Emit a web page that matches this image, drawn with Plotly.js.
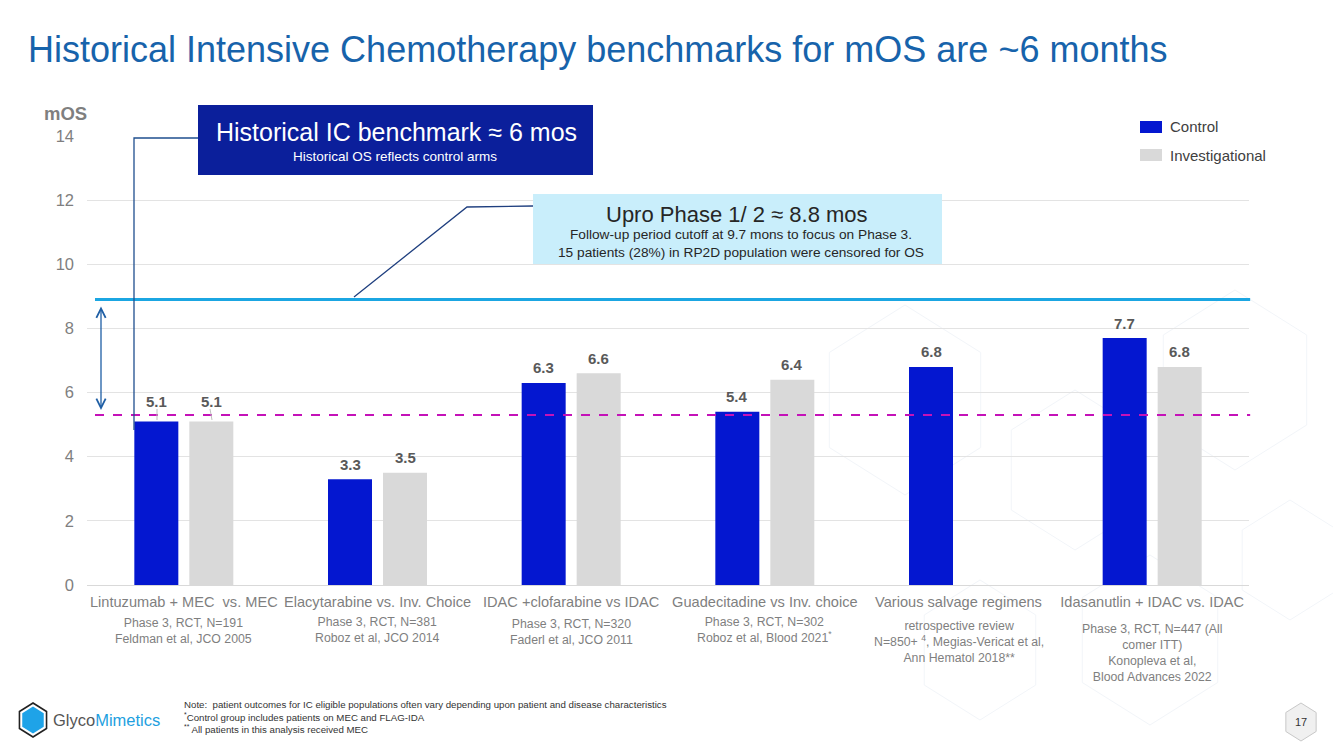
<!DOCTYPE html>
<html>
<head>
<meta charset="utf-8">
<script src="https://cdn.plot.ly/plotly-3.0.1.min.js"></script>
<style>html,body{margin:0;padding:0;background:#fff;}#chart{width:1333px;height:749px;}</style>
</head>
<body>
<div id="chart"></div>
<script>
// ---------- data ----------
const categories = [
  "Lintuzumab + MEC\u00a0 vs. MEC",
  "Elacytarabine vs. Inv. Choice",
  "IDAC +clofarabine vs IDAC",
  "Guadecitadine vs Inv. choice",
  "Various salvage regimens",
  "Idasanutlin + IDAC vs. IDAC"
];
const subLabels = [
  "Phase 3, RCT, N=191<br>Feldman et al, JCO 2005",
  "Phase 3, RCT, N=381<br>Roboz et al, JCO 2014",
  "Phase 3, RCT, N=320<br>Faderl et al, JCO 2011",
  "Phase 3, RCT, N=302<br>Roboz et al, Blood 2021<sup>*</sup>",
  "retrospective review<br>N=850+ <sup>4</sup>, Megias-Vericat et al,<br>Ann Hematol 2018**",
  "Phase 3, RCT, N=447 (All<br>comer ITT)<br>Konopleva et al,<br>Blood Advances 2022"
];
const controlValues = [5.1, 3.3, 6.3, 5.4, 6.8, 7.7];
const investigationalValues = [5.1, 3.5, 6.6, 6.4, null, 6.8];
const uproBenchmark = 8.9;
const historicalBenchmark = 5.3;
const yTickValues = [0, 2, 4, 6, 8, 10, 12, 14];
const seriesNames = ["Control", "Investigational"];

// ---------- geometry helpers (layout only) ----------
const L = 87, R = 1249, T = 136, B = 585;
const px = x => (x - L) / (R - L);
const py = y => (B - y) / (B - T);
const subLabelShift = [-29, -28, -30, -28, -32, -35];

const CONTROL_COLOR = "#0417d0";
const INVEST_COLOR = "#d9d9d9";
const FONT = "Liberation Sans, Arial, sans-serif";

function hexPath(cx, cy, r) {
  let pts = [];
  for (let i = 0; i < 6; i++) {
    const a = Math.PI / 180 * (60 * i - 90);
    pts.push([px(cx + r * 0.92 * Math.cos(a)), py(cy + r * Math.sin(a))]);
  }
  return "M" + pts.map(p => p[0].toFixed(5) + "," + p[1].toFixed(5)).join(" L") + " Z";
}

const traces = [
  { type: "bar", name: seriesNames[0], x: categories, y: controlValues,
    marker: { color: CONTROL_COLOR }, hoverinfo: "skip", showlegend: false },
  { type: "bar", name: seriesNames[1], x: categories, y: investigationalValues,
    marker: { color: INVEST_COLOR }, hoverinfo: "skip", showlegend: false }
];

// faint background decoration
const deco = [
  [905, 400, 95], [1075, 470, 80], [1235, 380, 90], [1150, 640, 85], [980, 650, 70], [1290, 560, 60]
];
const shapes = deco.map(d => ({
  type: "path", xref: "paper", yref: "paper", path: hexPath(d[0], d[1], d[2]),
  line: { color: "#f2f5f9", width: 1 }, layer: "below"
}));

shapes.push(
  { type: "line", xref: "paper", yref: "y", x0: px(95), x1: 1.001, y0: uproBenchmark, y1: uproBenchmark,
    line: { color: "#1ba6e2", width: 3 }, layer: "above" },
  { type: "line", xref: "paper", yref: "y", x0: px(95), x1: 1.001, y0: historicalBenchmark, y1: historicalBenchmark,
    line: { color: "#c412b8", width: 2.2, dash: "dash" }, layer: "above" },
  { type: "rect", xref: "paper", yref: "paper", x0: px(198), x1: px(593), y0: py(175), y1: py(105),
    fillcolor: "#0b1f9b", line: { width: 0 } },
  { type: "rect", xref: "paper", yref: "paper", x0: px(533), x1: px(942), y0: py(264), y1: py(194),
    fillcolor: "#c9eefb", line: { width: 0 } },
  { type: "path", xref: "paper", yref: "paper",
    path: `M${px(198)},${py(138)} L${px(134)},${py(138)} L${px(134)},${py(430)}`,
    line: { color: "#1f4f8f", width: 1.3 } },
  { type: "path", xref: "paper", yref: "paper",
    path: `M${px(533)},${py(206)} L${px(467)},${py(207)} L${px(354)},${py(297)}`,
    line: { color: "#1f3f7f", width: 1.3 } },
  { type: "line", xref: "paper", yref: "paper", x0: px(157), x1: px(157), y0: py(409), y1: py(420),
    line: { color: "#bfbfbf", width: 1 } },
  { type: "line", xref: "paper", yref: "paper", x0: px(210), x1: px(212), y0: py(409), y1: py(420),
    line: { color: "#bfbfbf", width: 1 } },
  { type: "rect", xref: "paper", yref: "paper", x0: px(1140), x1: px(1162), y0: py(133), y1: py(121),
    fillcolor: CONTROL_COLOR, line: { width: 0 } },
  { type: "rect", xref: "paper", yref: "paper", x0: px(1140), x1: px(1162), y0: py(161), y1: py(149),
    fillcolor: INVEST_COLOR, line: { width: 0 } },
  { type: "path", xref: "paper", yref: "paper", path: hexPath(33, 720, 17),
    fillcolor: "#ffffff", line: { color: "#222222", width: 1.6 } },
  { type: "path", xref: "paper", yref: "paper", path: hexPath(33, 720, 13.5),
    fillcolor: "#1ea3e8", line: { width: 0 } },
  { type: "path", xref: "paper", yref: "paper", path: hexPath(1301, 722, 19),
    fillcolor: "#f0f0f0", line: { color: "#c8c8c8", width: 1 } }
);

const annotations = [];
[controlValues, investigationalValues].forEach((vals, s) => {
  vals.forEach((v, i) => {
    if (v == null) return;
    annotations.push({
      xref: "x", yref: "y", x: categories[i], y: v, xshift: s === 0 ? -27.5 : 27.5,
      yanchor: "middle", yshift: i === 0 ? 20 : 15, text: "<b>" + v.toFixed(1) + "</b>",
      showarrow: false, font: { family: FONT, size: 15, color: "#595959" }
    });
  });
});
categories.forEach((c, i) => {
  annotations.push({
    xref: "x", yref: "paper", x: c, y: 0, yanchor: "top", xanchor: "center",
    yshift: subLabelShift[i], text: subLabels[i], showarrow: false, align: "center",
    font: { family: FONT, size: 12.3, color: "#7f7f7f" }
  });
});
annotations.push(
  { xref: "paper", yref: "paper", x: px(42), y: py(113), xanchor: "left", yanchor: "middle",
    text: "<b>mOS</b>", showarrow: false, font: { family: FONT, size: 18.5, color: "#7f7f7f" } },
  { xref: "paper", yref: "paper", x: px(396), y: py(132), xanchor: "center", yanchor: "middle",
    text: "Historical IC benchmark \u2248 6 mos", showarrow: false, font: { family: FONT, size: 25, color: "#ffffff" } },
  { xref: "paper", yref: "paper", x: px(395), y: py(156), xanchor: "center", yanchor: "middle",
    text: "Historical OS reflects control arms", showarrow: false, font: { family: FONT, size: 13.5, color: "#ffffff" } },
  { xref: "paper", yref: "paper", x: px(737), y: py(214), xanchor: "center", yanchor: "middle",
    text: "Upro Phase 1/ 2 \u2248 8.8 mos", showarrow: false, font: { family: FONT, size: 22, color: "#262626" } },
  { xref: "paper", yref: "paper", x: px(741), y: py(243), xanchor: "center", yanchor: "middle",
    text: "Follow-up period cutoff at 9.7 mons to focus on Phase 3.<br>15 patients (28%) in RP2D population were censored for OS",
    showarrow: false, align: "center", font: { family: FONT, size: 13.7, color: "#262626" } },
  { xref: "paper", yref: "paper", x: px(101), y: py(410), ax: 0, ay: -105, axref: "pixel", ayref: "pixel",
    text: "", showarrow: true, arrowside: "end+start", arrowhead: 5, startarrowhead: 5,
    arrowsize: 1.4, startarrowsize: 1.4, arrowwidth: 1.3, arrowcolor: "#1f5fa5" },
  { xref: "paper", yref: "paper", x: px(1168), y: py(127), xanchor: "left", yanchor: "middle",
    text: seriesNames[0], showarrow: false, font: { family: FONT, size: 15, color: "#404040" } },
  { xref: "paper", yref: "paper", x: px(1168), y: py(155), xanchor: "left", yanchor: "middle",
    text: seriesNames[1], showarrow: false, font: { family: FONT, size: 15, color: "#404040" } },
  { xref: "paper", yref: "paper", x: px(51), y: py(720), xanchor: "left", yanchor: "middle",
    text: "<span style='color:#555555'>Glyco</span><span style='color:#1e9fe0'>Mimetics</span>",
    showarrow: false, font: { family: FONT, size: 16.5, color: "#555555" } },
  { xref: "paper", yref: "paper", x: px(182), y: py(697), xanchor: "left", yanchor: "top",
    text: "Note:  patient outcomes for IC eligible populations often vary depending upon patient and disease characteristics<br><sup>*</sup>Control group includes patients on MEC and FLAG-IDA<br><sup>**</sup> All patients in this analysis received MEC",
    showarrow: false, align: "left", font: { family: FONT, size: 9.7, color: "#333333" } },
  { xref: "paper", yref: "paper", x: px(1301), y: py(722), xanchor: "center", yanchor: "middle",
    text: "17", showarrow: false, font: { family: FONT, size: 11, color: "#333333" } }
);

const layout = {
  width: 1333, height: 749,
  margin: { l: L, r: 1333 - R, t: T, b: 749 - B, pad: 0 },
  paper_bgcolor: "#ffffff", plot_bgcolor: "rgba(0,0,0,0)",
  title: {
    text: "Historical Intensive Chemotherapy benchmarks for mOS are ~6 months",
    x: 28 / 1333, xanchor: "left", xref: "container",
    y: 1 - 49 / 749, yanchor: "middle", yref: "container",
    font: { family: FONT, size: 36, color: "#1763ab" }
  },
  barmode: "group", bargap: 0.432, bargroupgap: 0.2,
  xaxis: {
    type: "category", showgrid: false, zeroline: false, showline: false,
    ticks: "", ticklabelstandoff: 6,
    tickfont: { family: FONT, size: 14.6, color: "#7f7f7f" }, fixedrange: true
  },
  yaxis: {
    range: [0, 14], tickvals: yTickValues, ticktext: yTickValues.map(String),
    showgrid: true, gridcolor: "#e3e3e3", gridwidth: 1, zeroline: true, zerolinecolor: "#d9d9d9",
    showline: false, ticks: "", ticklabelstandoff: 12,
    tickfont: { family: FONT, size: 16.5, color: "#7f7f7f" }, fixedrange: true
  },
  shapes: shapes,
  annotations: annotations,
  showlegend: false,
  font: { family: FONT }
};

Plotly.newPlot("chart", traces, layout, { staticPlot: true, displayModeBar: false });
</script>
</body>
</html>
